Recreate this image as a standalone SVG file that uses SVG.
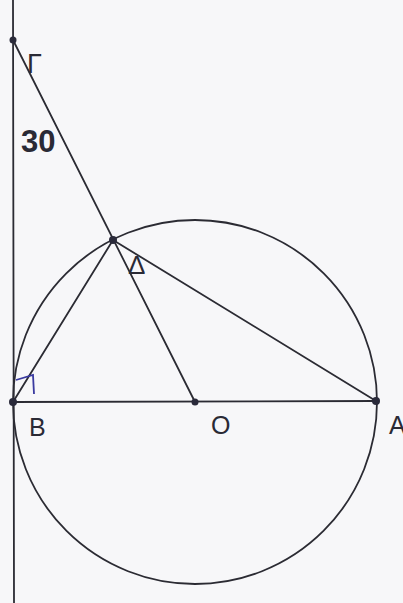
<svg xmlns="http://www.w3.org/2000/svg" width="403" height="603" viewBox="0 0 403 603">
<style>
.ln{stroke:#2b2b33;stroke-width:1.8;fill:none;stroke-linecap:round}
.pt{fill:#2a2a3a}
.lbl{font-family:"Liberation Sans",Arial,sans-serif;fill:#2a2a35}
</style>
<rect x="0" y="0" width="403" height="603" fill="#f7f7f9"/>
<circle id="circle" cx="195" cy="402" r="182" class="ln"/>
<g id="connectors">
<line class="ln" x1="13" y1="0" x2="14" y2="603"/>
<line class="ln" x1="13" y1="40" x2="195" y2="402"/>
<line class="ln" x1="113" y1="240" x2="376" y2="401"/>
<line class="ln" x1="113" y1="240" x2="13" y2="402"/>
<line class="ln" x1="13" y1="402" x2="376" y2="401"/>
<polyline points="16,380 33,375 34,394" fill="none" stroke="#3a3aa0" stroke-width="1.8"/>
</g>
<g id="node-gamma">
<circle class="pt" cx="13" cy="40" r="3.5"/>
<text class="lbl" x="27" y="73" font-size="27">Γ</text>
<text class="lbl" x="21" y="152" font-size="31" font-weight="bold">30</text>
</g>
<g id="node-delta">
<circle class="pt" cx="113" cy="240" r="4"/>
<text class="lbl" x="128" y="274" font-size="26">Δ</text>
</g>
<g id="node-B">
<circle class="pt" cx="13" cy="402" r="4"/>
<text class="lbl" x="29" y="436" font-size="25">B</text>
</g>
<g id="node-O">
<circle class="pt" cx="195" cy="402" r="3.5"/>
<text class="lbl" x="211" y="434" font-size="25">O</text>
</g>
<g id="node-A">
<circle class="pt" cx="376" cy="401" r="4"/>
<text class="lbl" x="389" y="434" font-size="25">A</text>
</g>
</svg>
